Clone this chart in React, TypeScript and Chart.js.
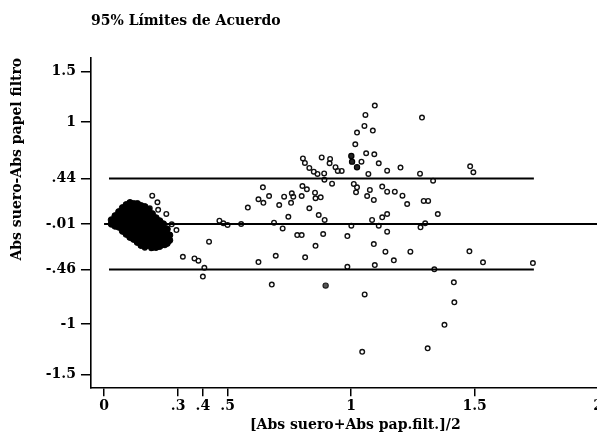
import React, { useEffect, useRef } from "react";
import { Chart, registerables } from "chart.js";

Chart.register(...registerables);

const chartTitle = "95% Límites de Acuerdo";
const xAxisTitle = "[Abs suero+Abs pap.filt.]/2";
const yAxisTitle = "Abs suero-Abs papel filtro";

const yTickValues = [1.5, 1, 0.44, -0.01, -0.46, -1, -1.5];
const yTickLabels = ["1.5", "1", ".44", "-.01", "-.46", "-1", "-1.5"];
const xTickValues = [0, 0.3, 0.4, 0.5, 1, 1.5, 2];
const xTickLabels = ["0", ".3", ".4", ".5", "1", "1.5", "2"];

const upperLimit = 0.44;
const meanDifference = -0.01;
const lowerLimit = -0.46;
const limitLineX = [0.02, 1.74];
const meanLineX = [0, 2.1];

// dense cluster of low-absorbance samples (overlapping markers)
const clusterPoints: [number, number][] = [
  [0.03, 0.03], [0.03, -0.01],
  [0.045, 0.07], [0.045, 0.02], [0.045, -0.03],
  [0.06, 0.11], [0.06, 0.06], [0.06, 0.01], [0.06, -0.04],
  [0.075, 0.15], [0.075, 0.1], [0.075, 0.05], [0.075, 0.0], [0.075, -0.05], [0.075, -0.08],
  [0.09, 0.18], [0.09, 0.13], [0.09, 0.08], [0.09, 0.03], [0.09, -0.02], [0.09, -0.07], [0.09, -0.11],
  [0.105, 0.2], [0.105, 0.15], [0.105, 0.1], [0.105, 0.05], [0.105, 0.0], [0.105, -0.05], [0.105, -0.1], [0.105, -0.14],
  [0.12, 0.19], [0.12, 0.14], [0.12, 0.09], [0.12, 0.04], [0.12, -0.01], [0.12, -0.06], [0.12, -0.11], [0.12, -0.16],
  [0.135, 0.19], [0.135, 0.14], [0.135, 0.09], [0.135, 0.04], [0.135, -0.01], [0.135, -0.06], [0.135, -0.11], [0.135, -0.16], [0.135, -0.19],
  [0.15, 0.17], [0.15, 0.12], [0.15, 0.07], [0.15, 0.02], [0.15, -0.03], [0.15, -0.08], [0.15, -0.13], [0.15, -0.18], [0.15, -0.22],
  [0.165, 0.16], [0.165, 0.11], [0.165, 0.06], [0.165, 0.01], [0.165, -0.04], [0.165, -0.09], [0.165, -0.14], [0.165, -0.19], [0.165, -0.23],
  [0.18, 0.13], [0.18, 0.08], [0.18, 0.03], [0.18, -0.02], [0.18, -0.07], [0.18, -0.12], [0.18, -0.17], [0.18, -0.22],
  [0.195, 0.09], [0.195, 0.04], [0.195, -0.01], [0.195, -0.06], [0.195, -0.11], [0.195, -0.16], [0.195, -0.21], [0.195, -0.24],
  [0.21, 0.05], [0.21, 0.0], [0.21, -0.05], [0.21, -0.1], [0.21, -0.15], [0.21, -0.2], [0.21, -0.24],
  [0.225, 0.02], [0.225, -0.03], [0.225, -0.08], [0.225, -0.13], [0.225, -0.18], [0.225, -0.23],
  [0.24, -0.01], [0.24, -0.06], [0.24, -0.11], [0.24, -0.16], [0.24, -0.21],
  [0.255, -0.06], [0.255, -0.11], [0.255, -0.16], [0.255, -0.2],
  [0.265, -0.12], [0.265, -0.17],
];

const openPoints: [number, number][] = [
  [0.195, 0.27], [0.216, 0.205], [0.185, 0.145], [0.219, 0.13], [0.252, 0.09], [0.293, -0.07],
  [0.165, -0.245], [0.191, -0.25], [0.219, -0.235], [0.246, -0.22], [0.259, -0.185], [0.274, -0.013],
  [0.319, -0.334], [0.366, -0.35], [0.382, -0.373], [0.406, -0.443], [0.4, -0.53], [0.425, -0.185],
  [0.467, 0.023], [0.483, -0.003], [0.5, -0.02], [0.555, -0.01], [0.582, 0.153], [0.625, -0.386],
  [0.643, 0.353], [0.625, 0.235], [0.645, 0.2], [0.668, 0.267], [0.679, -0.609], [0.688, 0.003],
  [0.695, -0.324], [0.709, 0.178], [0.723, -0.054], [0.729, 0.26], [0.746, 0.062], [0.757, 0.2],
  [0.76, 0.294], [0.766, 0.26], [0.782, -0.119], [0.8, -0.119], [0.8, 0.267], [0.803, 0.366],
  [0.805, 0.639], [0.813, 0.594], [0.814, -0.34], [0.821, 0.334], [0.831, 0.545], [0.831, 0.146],
  [0.849, 0.508], [0.854, 0.3], [0.856, 0.245], [0.856, -0.226], [0.864, 0.485], [0.869, 0.079],
  [0.877, 0.254], [0.881, 0.649], [0.891, 0.49], [0.892, 0.429], [0.893, 0.03], [0.887, -0.109],
  [0.915, 0.634], [0.913, 0.591], [0.923, 0.389], [0.937, 0.552], [0.946, 0.515], [0.962, 0.515],
  [0.985, -0.129], [0.985, -0.433], [1.001, -0.027], [1.011, 0.386], [1.017, 0.779], [1.02, 0.304],
  [1.024, 0.353], [1.024, 0.894], [1.042, 0.607], [1.045, -1.274], [1.054, 0.96], [1.055, -0.706],
  [1.058, 1.069], [1.061, 0.69], [1.065, 0.267], [1.07, 0.485], [1.076, 0.327], [1.085, 0.03],
  [1.088, 0.914], [1.092, 0.228], [1.092, -0.208], [1.094, 0.68], [1.096, 1.161], [1.096, -0.416],
  [1.112, 0.591], [1.112, -0.027], [1.126, 0.36], [1.126, 0.056], [1.139, -0.284], [1.146, 0.518],
  [1.146, 0.31], [1.146, 0.089], [1.146, -0.086], [1.173, -0.369], [1.177, 0.31], [1.2, 0.548],
  [1.208, 0.27], [1.227, 0.188], [1.24, -0.284], [1.279, 0.488], [1.281, -0.043], [1.287, 1.043],
  [1.294, 0.218], [1.312, 0.218], [1.3, -0.003], [1.31, -1.24], [1.332, 0.419], [1.337, -0.458],
  [1.351, 0.089], [1.378, -1.007], [1.416, -0.587], [1.418, -0.785], [1.479, -0.28], [1.482, 0.561],
  [1.495, 0.502], [1.534, -0.389], [1.736, -0.396],
];

const darkPoints: [number, number][] = [
  [1.001, 0.663], [1.004, 0.607], [1.024, 0.551],
];
const greyPoints: [number, number][] = [[0.897, -0.619]];

const X_MIN = -0.053;
const X_MAX = 2.087;
const Y_MIN = -1.634;
const Y_MAX = 1.634;

const toXY = (pts: [number, number][]) => pts.map(([x, y]) => ({ x, y }));
const labelFor = (vals: number[], labels: string[], v: number) => {
  const i = vals.findIndex((t) => Math.abs(t - v) < 1e-9);
  return i >= 0 ? labels[i] : "";
};

const font = { family: "'DejaVu Serif', serif", weight: "bold" as const, size: 14 };
const titleFont = { family: "'DejaVu Serif', serif", weight: "bold" as const, size: 14, lineHeight: 1.0 };

export default function App() {
  const ref = useRef<HTMLCanvasElement | null>(null);

  useEffect(() => {
    if (!ref.current) return;
    const chart = new Chart(ref.current, {
      type: "scatter",
      data: {
        datasets: [
          {
            data: [{ x: limitLineX[0], y: upperLimit }, { x: limitLineX[1], y: upperLimit }],
            showLine: true, borderColor: "#000", borderWidth: 2, pointRadius: 0,
          },
          {
            data: [{ x: meanLineX[0], y: meanDifference }, { x: meanLineX[1], y: meanDifference }],
            showLine: true, borderColor: "#000", borderWidth: 2.2, pointRadius: 0,
          },
          {
            data: [{ x: limitLineX[0], y: lowerLimit }, { x: limitLineX[1], y: lowerLimit }],
            showLine: true, borderColor: "#000", borderWidth: 2, pointRadius: 0,
          },
          {
            data: toXY(clusterPoints),
            pointRadius: 3.3, pointBorderWidth: 1, borderColor: "#000", backgroundColor: "#000",
          },
          {
            data: toXY(openPoints),
            pointRadius: 2.3, pointBorderWidth: 1.4, borderColor: "#111", backgroundColor: "rgba(0,0,0,0)",
          },
          {
            data: toXY(darkPoints),
            pointRadius: 2.6, pointBorderWidth: 1.2, borderColor: "#000", backgroundColor: "#222",
          },
          {
            data: toXY(greyPoints),
            pointRadius: 2.6, pointBorderWidth: 1.2, borderColor: "#222", backgroundColor: "#555",
          },
        ],
      },
      options: {
        responsive: false,
        animation: false,
        devicePixelRatio: 1,
        layout: { padding: 0 },
        plugins: {
          legend: { display: false },
          tooltip: { enabled: false },
          title: {
            display: true,
            text: chartTitle,
            align: "start",
            fullSize: false,
            color: "#000",
            font,
            padding: { top: 13, bottom: 28 },
          },
        },
        scales: {
          x: {
            type: "linear",
            position: "bottom",
            min: X_MIN,
            max: X_MAX,
            afterBuildTicks: (axis: any) => {
              axis.ticks = xTickValues.map((v) => ({ value: v }));
            },
            border: { display: true, color: "#000", width: 1.6 },
            grid: { display: true, drawOnChartArea: false, drawTicks: true, tickLength: 8, color: "#000", lineWidth: 1.5 },
            ticks: {
              autoSkip: false,
              maxRotation: 0,
              padding: 2,
              color: "#000",
              font,
              callback: (v: any) => labelFor(xTickValues, xTickLabels, Number(v)),
            },
            title: { display: true, text: xAxisTitle, color: "#000", font: titleFont, padding: { top: 1, bottom: 1 } },
          },
          y: {
            type: "linear",
            min: Y_MIN,
            max: Y_MAX,
            afterBuildTicks: (axis: any) => {
              axis.ticks = yTickValues.map((v) => ({ value: v }));
            },
            border: { display: true, color: "#000", width: 1.6 },
            grid: { display: true, drawOnChartArea: false, drawTicks: true, tickLength: 10, color: "#000", lineWidth: 1.5 },
            ticks: {
              autoSkip: false,
              padding: 5,
              color: "#000",
              font,
              callback: (v: any) => labelFor(yTickValues, yTickLabels, Number(v)),
            },
            title: {
              display: true,
              text: yAxisTitle,
              align: "end",
              color: "#000",
              font,
              padding: { top: 9, bottom: 15 },
            },
          },
        },
      },
    });
    return () => chart.destroy();
  }, []);

  return (
    <div style={{ position: "fixed", left: 0, top: 0, width: 597, height: 433, overflow: "hidden", background: "#fff" }}>
      <canvas ref={ref} width={625} height={433} style={{ width: 625, height: 433, display: "block" }} />
    </div>
  );
}
